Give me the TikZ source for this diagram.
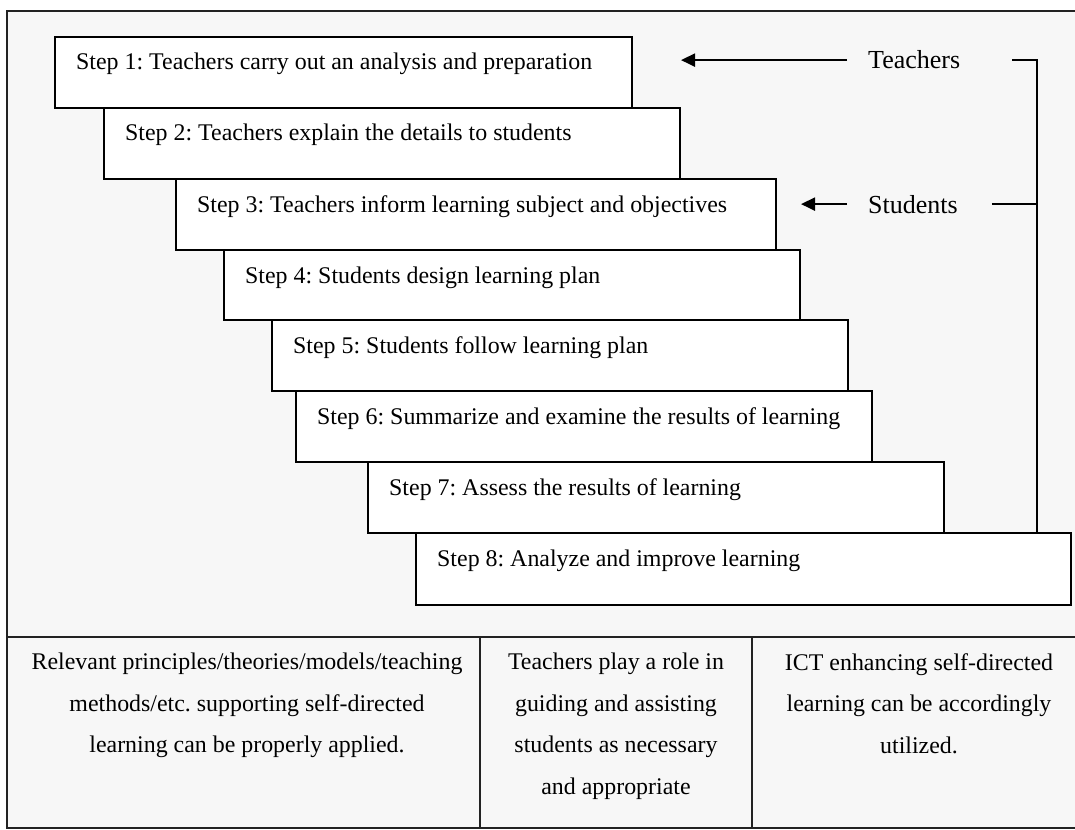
\documentclass[tikz,border=0pt]{standalone}
\usepackage{fontspec}
\setmainfont{Liberation Serif}
\usetikzlibrary{arrows.meta,calc}
\definecolor{bggray}{HTML}{F7F7F7}
\definecolor{framec}{HTML}{222222}
\frenchspacing
\begin{document}
\begin{tikzpicture}[x=1pt,y=-1pt,
  stepbox/.style={draw=black,line width=2pt,fill=white,anchor=north west,inner sep=0pt,outer sep=0pt},
  steptext/.style={anchor=base west,inner sep=0pt,font=\fontsize{23.9}{28}\selectfont\frenchspacing},
  rolelabel/.style={anchor=base west,inner sep=0pt,font=\fontsize{26}{30}\selectfont},
  celltext/.style={anchor=north,inner sep=0pt,align=center,font=\fontsize{23.9}{41.5}\selectfont\frenchspacing},
  conn/.style={draw=black,line width=2pt},
  arr/.style={conn,-{Triangle[length=14pt,width=13pt]}},
  frameline/.style={draw=framec,line width=1.6pt}
]
\useasboundingbox (0,0) rectangle (1075,829);
\fill[white] (0,0) rectangle (1075,829);
\fill[bggray] (7,11) rectangle (1075,828);
\draw[frameline] (1075,11) -- (7,11) -- (7,828) -- (1075,828);
\draw[frameline] (7,637) -- (1075,637);
\draw[frameline] (480,637) -- (480,828);
\draw[frameline] (752,637) -- (752,828);

% step boxes
\node[stepbox,minimum width=577pt,minimum height=71pt] (s1) at (55,37) {};
\node[steptext] (t1) at ($(s1.north west)+(21,33)$) {Step 1: Teachers carry out an analysis and preparation};
\node[stepbox,minimum width=576pt,minimum height=71pt] (s2) at (104,108) {};
\node[steptext] (t2) at ($(s2.north west)+(21,33)$) {Step 2: Teachers explain the details to students};
\node[stepbox,minimum width=600pt,minimum height=71pt] (s3) at (176,179) {};
\node[steptext] (t3) at ($(s3.north west)+(21,33)$) {Step 3: Teachers inform learning subject and objectives};
\node[stepbox,minimum width=576pt,minimum height=70pt] (s4) at (224,250) {};
\node[steptext] (t4) at ($(s4.north west)+(21,33)$) {Step 4: Students design learning plan};
\node[stepbox,minimum width=576pt,minimum height=71pt] (s5) at (272,320) {};
\node[steptext] (t5) at ($(s5.north west)+(21,33)$) {Step 5: Students follow learning plan};
\node[stepbox,minimum width=576pt,minimum height=71pt] (s6) at (296,391) {};
\node[steptext] (t6) at ($(s6.north west)+(21,33)$) {Step 6: Summarize and examine the results of learning};
\node[stepbox,minimum width=576pt,minimum height=71pt] (s7) at (368,462) {};
\node[steptext] (t7) at ($(s7.north west)+(21,33)$) {Step 7: Assess the results of learning};
\node[stepbox,minimum width=655pt,minimum height=72pt] (s8) at (416,533) {};
\node[steptext] (t8) at ($(s8.north west)+(21,33)$) {Step 8: Analyze and improve learning};

% role labels
\node[rolelabel] (tl) at (868,69) {Teachers};
\node[rolelabel] (sl) at (868,213) {Students};
\draw[arr,shorten <=21pt,shorten >=49pt] (tl.west) -- (tl.west -| s1.east);
\draw[arr,shorten <=21pt,shorten >=25pt] (sl.west) -- (sl.west -| s3.east);
\path (tl.east) ++(77,0) coordinate (bt);
\draw[conn,shorten <=52pt] (tl.east) -- (bt) -- (bt |- s8.north);
\draw[conn,shorten <=34pt] (sl.east) -- (sl.east -| bt);

% bottom cells
\node[celltext] (c1) at (247,653) {Relevant principles/theories/models/teaching\\methods/etc. supporting self-directed\\learning can be properly applied.};
\node[celltext] (c2) at (616,653) {Teachers play a role in\\guiding and assisting\\students as necessary\\and appropriate};
\node[celltext] (c3) at (919,653) {ICT enhancing self-directed\\learning can be accordingly\\utilized.};
\end{tikzpicture}
\end{document}
